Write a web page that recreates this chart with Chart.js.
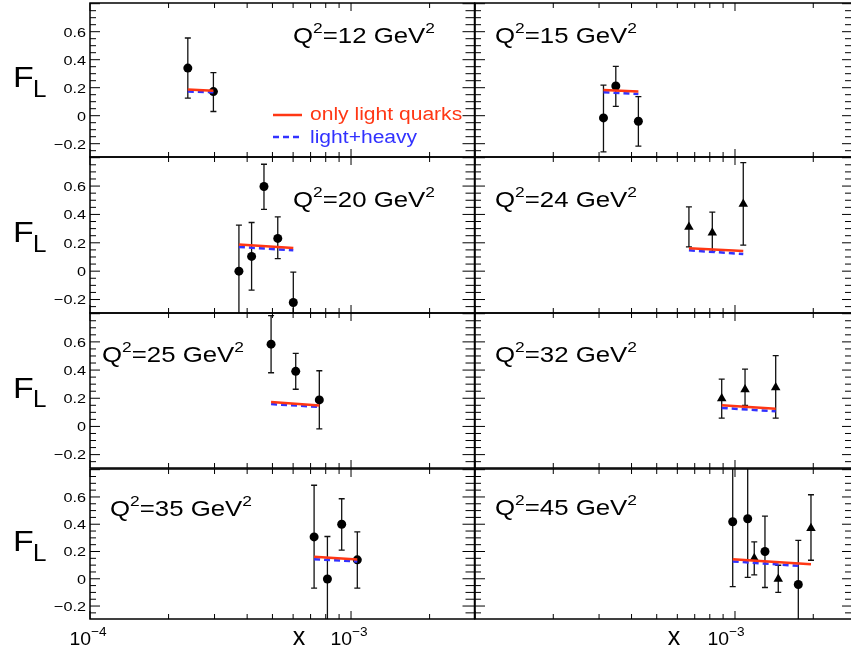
<!DOCTYPE html>
<html>
<head>
<meta charset="utf-8">
<script src="https://cdn.jsdelivr.net/npm/chart.js@4.4.0/dist/chart.umd.min.js"></script>
<style>
  html, body { margin: 0; padding: 0; background: #fff; overflow: hidden; width: 851px; height: 654px; }
  canvas { position: absolute; }
</style>
</head>
<body>
<script>
var FONT = '"Liberation Sans", Arial, Helvetica, sans-serif';
var RED = 'rgb(255,55,20)';
var BLUE = 'rgb(50,50,255)';

// one entry per panel, reading order (row by row, left then right)
var q2Values = [12, 15, 20, 24, 25, 32, 35, 45];

// filled circles
var dotX = [
  [2.37e-4, 2.97e-4],
  [3.12e-4, 3.48e-4, 4.25e-4],
  [3.72e-4, 4.16e-4, 4.64e-4, 5.24e-4, 6.01e-4],
  [],
  [4.94e-4, 6.14e-4, 7.56e-4],
  [],
  [7.22e-4, 8.12e-4, 9.21e-4, 1.057e-3],
  [9.8e-4, 1.119e-3, 1.304e-3, 1.752e-3]
];
var dotY = [
  [0.34, 0.172],
  [-0.016, 0.212, -0.04],
  [0.0, 0.104, 0.597, 0.231, -0.221],
  [],
  [0.584, 0.391, 0.188],
  [],
  [0.307, -0.002, 0.40, 0.139],
  [0.418, 0.44, 0.2, -0.042]
];
var dotLo = [
  [0.125, 0.03],
  [-0.259, 0.066, -0.217],
  [-0.4, -0.134, 0.436, 0.088, -0.43],
  [],
  [0.381, 0.264, -0.017],
  [],
  [-0.068, -0.4, 0.21, -0.068],
  [-0.058, 0.01, -0.064, -0.4]
];
var dotHi = [
  [0.555, 0.308],
  [0.219, 0.353, 0.136],
  [0.324, 0.343, 0.754, 0.383, -0.007],
  [],
  [0.786, 0.519, 0.395],
  [],
  [0.686, 0.31, 0.587, 0.344],
  [0.95, 0.95, 0.46, 0.282]
];

// filled triangles
var triX = [[], [], [], [6.65e-4, 8.18e-4, 1.076e-3], [], [8.89e-4, 1.093e-3, 1.434e-3], [], [1.186e-3, 1.467e-3, 1.96e-3]];
var triY = [[], [], [], [0.311, 0.271, 0.474], [], [0.198, 0.262, 0.276], [], [0.151, -0.002, 0.371]];
var triLo = [[], [], [], [0.171, 0.14, 0.183], [], [0.059, 0.15, 0.059], [], [0.029, -0.1, 0.136]];
var triHi = [[], [], [], [0.454, 0.416, 0.766], [], [0.336, 0.407, 0.502], [], [0.27, 0.099, 0.616]];

// theory curves (start / end)
var lightX = [
  [2.37e-4, 2.97e-4], [3.12e-4, 4.25e-4], [3.72e-4, 6.01e-4], [6.65e-4, 1.076e-3],
  [4.94e-4, 7.56e-4], [8.89e-4, 1.434e-3], [7.22e-4, 1.057e-3], [9.8e-4, 1.96e-3]
];
var lightY = [
  [0.188, 0.178], [0.183, 0.172], [0.188, 0.164], [0.161, 0.143],
  [0.174, 0.148], [0.15, 0.126], [0.161, 0.141], [0.144, 0.107]
];
var heavyX = [
  [2.37e-4, 2.97e-4], [3.12e-4, 4.25e-4], [3.72e-4, 6.01e-4], [6.65e-4, 1.076e-3],
  [4.94e-4, 7.56e-4], [8.89e-4, 1.434e-3], [7.22e-4, 1.057e-3], [9.8e-4, 1.752e-3]
];
var heavyY = [
  [0.173, 0.168], [0.167, 0.155], [0.171, 0.147], [0.147, 0.121],
  [0.159, 0.138], [0.131, 0.107], [0.144, 0.127], [0.127, 0.095]
];

// axes
var yRange = [-0.295, 0.805];
var yTickValues = [-0.2, 0, 0.2, 0.4, 0.6];
var xMin = 1e-4;
var xMaxByCol = [2.972e-3, 2.869e-3];
var xDecades = [1e-4, 1e-3];
var xLabelValues = [[1e-4, 1e-3], [1e-3]];
var xLabelExp = [[-4, -3], [-3]];

// layout of the frames
var colLeft = [90, 475], colRight = [474.5, 854];
var rowTop = [3, 157, 313, 469], rowBottom = [157, 313, 468, 619];
var q2Offset = [[203, 40], [20, 40], [203, 50], [20, 50], [12, 49], [20, 49], [20, 47], [20, 46]];

function pts(xs, ys) {
  return xs.map(function (x, k) { return { x: x, y: ys[k] }; });
}

function drawRich(ctx, parts, x, y, align, sx) {
  var total = 0;
  parts.forEach(function (p) {
    ctx.font = p.s + 'px ' + FONT;
    p.w = ctx.measureText(p.t).width * sx;
    total += p.w;
  });
  var cx = align === 'center' ? x - total / 2 : (align === 'right' ? x - total : x);
  parts.forEach(function (p) {
    ctx.save();
    ctx.font = p.s + 'px ' + FONT;
    ctx.translate(cx, y + (p.dy || 0));
    ctx.scale(sx, 1);
    ctx.fillText(p.t, 0, 0);
    ctx.restore();
    cx += p.w;
  });
}

function seg(ctx, x1, y1, x2, y2) {
  ctx.beginPath(); ctx.moveTo(x1, y1); ctx.lineTo(x2, y2); ctx.stroke();
}

var rootStyle = {
  id: 'rootStyle',
  beforeDatasetsDraw: function (chart) {
    var ctx = chart.ctx, a = chart.chartArea, xs = chart.scales.x, ys = chart.scales.y;
    ctx.save();
    ctx.beginPath();
    ctx.rect(a.left, a.top, a.right - a.left, a.bottom - a.top);
    ctx.clip();
    ctx.strokeStyle = '#111';
    ctx.lineWidth = 1.3;
    chart.data.datasets.forEach(function (ds) {
      if (!ds.errLo) return;
      ds.data.forEach(function (p, k) {
        var px = xs.getPixelForValue(p.x);
        var yHi = ys.getPixelForValue(ds.errHi[k]);
        var yLo = ys.getPixelForValue(ds.errLo[k]);
        ctx.beginPath();
        ctx.moveTo(px, yHi); ctx.lineTo(px, yLo);
        ctx.moveTo(px - 3, yHi); ctx.lineTo(px + 3, yHi);
        ctx.moveTo(px - 3, yLo); ctx.lineTo(px + 3, yLo);
        ctx.stroke();
      });
    });
    ctx.restore();
  },
  afterDraw: function (chart, args, opts) {
    var ctx = chart.ctx, a = chart.chartArea, xs = chart.scales.x, ys = chart.scales.y;
    var i = opts.panel, row = Math.floor(i / 2), col = i % 2;
    ctx.save();
    ctx.strokeStyle = '#000';
    ctx.lineWidth = 1;

    // x ticks, inside, top and bottom
    xDecades.forEach(function (d) {
      for (var m = 1; m <= 9; m++) {
        var v = m * d;
        if (v < xs.min * 0.999 || v > xs.max) continue;
        var px = xs.getPixelForValue(v);
        var len = m === 1 ? 8 : 5;
        seg(ctx, px, a.bottom, px, a.bottom - len);
        seg(ctx, px, a.top, px, a.top + len);
      }
    });
    // y ticks, inside, left and right
    for (var k = -6; k <= 16; k++) {
      var v = k * 0.05;
      if (v < ys.min || v > ys.max) continue;
      var py = ys.getPixelForValue(v);
      var major = k % 4 === 0;
      seg(ctx, a.left, py, a.left + (major ? 10 : 6), py);
      seg(ctx, a.right, py, a.right - (major ? 12 : 9), py);
    }
    // frame
    ctx.lineWidth = 1.5;
    ctx.strokeRect(a.left, a.top, a.right - a.left, a.bottom - a.top);

    ctx.fillStyle = '#000';
    ctx.textBaseline = 'alphabetic';

    // y labels and F_L on the left column
    if (col === 0) {
      yTickValues.forEach(function (v) {
        var txt = v === 0 ? '0' : (v < 0 ? '\u2212' + Math.abs(v).toFixed(1) : v.toFixed(1));
        drawRich(ctx, [{ t: txt, s: 13.5 }], a.left - 4, ys.getPixelForValue(v) + 4.8, 'right', 1.2);
      });
      var fy = a.top + (a.bottom - a.top) * 0.548;
      drawRich(ctx, [{ t: 'F', s: 29 }], 13, fy, 'left', 1.17);
      drawRich(ctx, [{ t: 'L', s: 23 }], 33, fy + 9.5, 'left', 1.05);
    }

    // Q^2 label
    var q = q2Offset[i];
    drawRich(ctx, [
      { t: 'Q', s: 21.5 }, { t: '2', s: 14.5, dy: -10 },
      { t: '=' + q2Values[i] + ' GeV', s: 21.5 }, { t: '2', s: 14.5, dy: -10 }
    ], a.left + q[0], a.top + q[1], 'left', 1.2);

    // legend in the first panel
    if (i === 0) {
      var lx = a.left + 183, ly = a.top + 112;
      ctx.lineWidth = 2.5;
      ctx.strokeStyle = chart.data.datasets[0].borderColor;
      seg(ctx, lx, ly, lx + 29, ly);
      ctx.strokeStyle = chart.data.datasets[1].borderColor;
      ctx.setLineDash([6, 4]);
      seg(ctx, lx, ly + 22, lx + 29, ly + 22);
      ctx.setLineDash([]);
      ctx.fillStyle = chart.data.datasets[0].borderColor;
      drawRich(ctx, [{ t: chart.data.datasets[0].label, s: 18 }], lx + 37, ly + 5, 'left', 1.17);
      ctx.fillStyle = chart.data.datasets[1].borderColor;
      drawRich(ctx, [{ t: chart.data.datasets[1].label, s: 18 }], lx + 37, ly + 28, 'left', 1.17);
      ctx.fillStyle = '#000';
    }

    // x labels on the bottom row
    if (row === 3) {
      var shift = col === 0 ? -2 : -9;
      xLabelValues[col].forEach(function (v, n) {
        drawRich(ctx, [
          { t: '10', s: 18.5 }, { t: '\u2212' + Math.abs(xLabelExp[col][n]), s: 13, dy: -9 }
        ], xs.getPixelForValue(v) + shift, a.bottom + 26, 'center', 1.05);
      });
      drawRich(ctx, [{ t: 'x', s: 25 }], a.left + (col === 0 ? 209 : 199), a.bottom + 26, 'center', 1.0);
    }
    ctx.restore();
  }
};

for (var i = 0; i < 8; i++) {
  var row = Math.floor(i / 2), col = i % 2;
  var cvLeft = col === 0 ? 0 : 468;
  var cvWidth = col === 0 ? 480 : 392;
  var padBottom = row === 3 ? 40 : 10;
  var cvTop = rowTop[row] - 10;
  var cvHeight = rowBottom[row] - rowTop[row] + 10 + padBottom;

  var cv = document.createElement('canvas');
  cv.width = cvWidth;
  cv.height = cvHeight;
  cv.style.left = cvLeft + 'px';
  cv.style.top = cvTop + 'px';
  document.body.appendChild(cv);

  new Chart(cv, {
    type: 'scatter',
    data: {
      datasets: [
        { label: 'only light quarks', data: pts(lightX[i], lightY[i]), showLine: true,
          borderColor: RED, borderWidth: 2.5, pointRadius: 0 },
        { label: 'light+heavy', data: pts(heavyX[i], heavyY[i]), showLine: true,
          borderColor: BLUE, borderDash: [6, 4], borderWidth: 2.5, pointRadius: 0 },
        { label: 'data', data: pts(dotX[i], dotY[i]), pointStyle: 'circle', pointRadius: 4.5,
          backgroundColor: '#000', borderWidth: 0, errLo: dotLo[i], errHi: dotHi[i] },
        { label: 'data', data: pts(triX[i], triY[i]), pointStyle: 'triangle', pointRadius: 5.5,
          backgroundColor: '#000', borderWidth: 0, errLo: triLo[i], errHi: triHi[i] }
      ]
    },
    options: {
      responsive: false,
      animation: false,
      devicePixelRatio: 1,
      events: [],
      layout: {
        padding: {
          left: colLeft[col] - cvLeft,
          right: cvLeft + cvWidth - colRight[col],
          top: 10,
          bottom: padBottom
        }
      },
      scales: {
        x: { type: 'logarithmic', min: xMin, max: xMaxByCol[col], display: false },
        y: { type: 'linear', min: yRange[0], max: yRange[1], display: false }
      },
      plugins: {
        legend: { display: false },
        tooltip: { enabled: false },
        rootStyle: { panel: i }
      }
    },
    plugins: [rootStyle]
  });
}
</script>
</body>
</html>
